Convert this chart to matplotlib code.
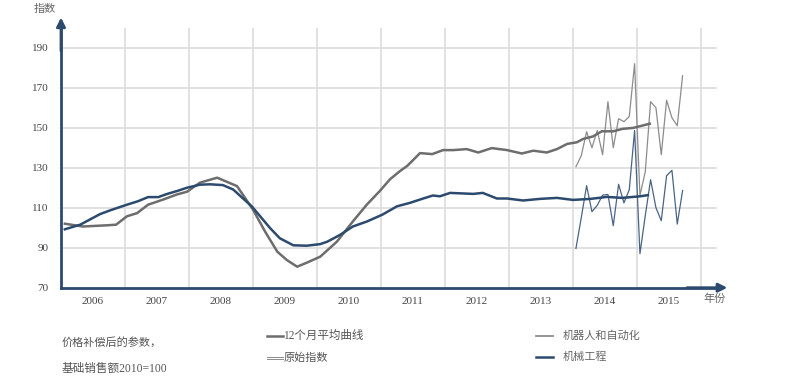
import matplotlib
matplotlib.use("Agg")
import matplotlib.pyplot as plt

# ===========================
# DATA (index, 2010 = 100)
# ===========================

# 12-month average, robots & automation (decimal year, value)
robot_avg_t = [2006.06, 2006.34, 2006.72, 2006.86, 2007.03, 2007.19, 2007.36, 2007.59,
               2007.81, 2007.97, 2008.17, 2008.44, 2008.75, 2008.84, 2009.0, 2009.19,
               2009.38, 2009.53, 2009.69, 2009.84, 2010.05, 2010.31, 2010.56, 2010.78,
               2010.98, 2011.14, 2011.3, 2011.41, 2011.61, 2011.8, 2011.97, 2012.13,
               2012.34, 2012.52, 2012.73, 2012.97, 2013.2, 2013.38, 2013.59, 2013.75,
               2013.91, 2014.06, 2014.16, 2014.31, 2014.45, 2014.63, 2014.77, 2014.94,
               2015.09, 2015.2]
robot_avg_v = [102, 100.6, 101.2, 101.5, 105.7, 107.3, 111.5, 114,
               116.6, 118, 122.5, 125, 120.8, 116.6, 109, 98,
               88, 83.8, 80.5, 82.5, 85.5, 93, 103.1, 111.6,
               118.3, 124.2, 128.4, 130.9, 137.3, 136.8, 138.8, 138.8,
               139.3, 137.6, 139.8, 138.8, 137.1, 138.5, 137.6, 139.3,
               141.9, 142.7, 144.4, 145.6, 148.2, 148.2, 149.4, 149.9,
               151.1, 152]

# 12-month average, mechanical engineering
mech_avg_t = [2006.06, 2006.3, 2006.61, 2006.77, 2007.03, 2007.2, 2007.36, 2007.52,
              2007.66, 2007.81, 2007.97, 2008.17, 2008.33, 2008.53, 2008.69, 2008.98,
              2009.27, 2009.42, 2009.63, 2009.84, 2010.05, 2010.16, 2010.36, 2010.56,
              2010.78, 2011.02, 2011.25, 2011.45, 2011.66, 2011.81, 2011.92, 2012.08,
              2012.44, 2012.59, 2012.81, 2012.97, 2013.22, 2013.48, 2013.75, 2014.0,
              2014.27, 2014.53, 2014.77, 2014.94, 2015.05, 2015.17]
mech_avg_v = [99.2, 101.5, 106.8, 108.7, 111.5, 113.2, 115.3, 115.3,
              116.9, 118.3, 120, 121.5, 121.7, 121.3, 119.1, 110.7,
              99.7, 94.7, 91.2, 91, 91.8, 93, 96.4, 100.6,
              103.1, 106.5, 110.7, 112.4, 114.6, 116.1, 115.7, 117.4,
              116.9, 117.4, 114.6, 114.6, 113.6, 114.4, 114.9, 113.9,
              114.4, 115.4, 114.9, 115.4, 115.7, 116.3]

# raw monthly index, Jan 2014 - Sep 2015
raw_t = [2014 + (m - 0.45) / 12 for m in range(1, 13)] + \
        [2015 + (m - 0.45) / 12 for m in range(1, 10)]
robot_raw = [130.5, 136, 148, 140, 148.6, 136.5, 163, 140, 154.5, 153, 155.6, 182,
             116, 128, 163, 160, 136.5, 163.7, 155, 151, 176]
mech_raw = [89.6, 105, 121, 108, 111.2, 116.3, 116.6, 101, 121.7, 112.4, 119, 148.6,
            87, 106, 124, 110, 103.5, 126, 128.7, 101.8, 118.6]

years = list(range(2006, 2016))
y_ticks = [70, 90, 110, 130, 150, 170, 190]

# ===========================
# STYLE
# ===========================
NAVY = "#2c4a6e"
GREY = "#6d6d6d"
RAW_GREY = "#8c8c8c"
RAW_NAVY = "#4a6485"
GRID = "#dcdcdc"
TXT = "#444444"
SERIF = ["Liberation Serif", "Noto Sans CJK SC"]
CJK = ["Noto Sans CJK SC", "DejaVu Sans"]

fig = plt.figure(figsize=(7.94, 3.86), dpi=100)
ax = fig.add_axes([61 / 794, 1 - 287.7 / 386, 656 / 794, 260 / 386])

ax.set_xlim(2006, 2016.25)
ax.set_ylim(70, 200)

# grid
for yv in y_ticks[1:]:
    ax.axhline(yv, color=GRID, lw=1.2, zorder=0)
for yr in range(2007, 2017):
    ax.axvline(yr, color=GRID, lw=1.2, zorder=0)

# lines
ax.plot(raw_t, robot_raw, color=RAW_GREY, lw=0.9, zorder=2)
ax.plot(raw_t, mech_raw, color=RAW_NAVY, lw=0.9, zorder=2)
ax.plot(robot_avg_t, robot_avg_v, color=GREY, lw=1.8, zorder=3)
ax.plot(mech_avg_t, mech_avg_v, color=NAVY, lw=1.8, zorder=3)

# axes
for s in ["top", "right"]:
    ax.spines[s].set_visible(False)
for s in ["left", "bottom"]:
    ax.spines[s].set_color(NAVY)
    ax.spines[s].set_linewidth(2)
ax.annotate("", xy=(0, 1.05), xytext=(0, 0.9), xycoords="axes fraction",
            arrowprops=dict(arrowstyle="-|>", color=NAVY, lw=2, mutation_scale=13),
            annotation_clip=False)
ax.annotate("", xy=(1.02, 0), xytext=(0.95, 0), xycoords="axes fraction",
            arrowprops=dict(arrowstyle="-|>", color=NAVY, lw=2, mutation_scale=13),
            annotation_clip=False)

ax.set_yticks(y_ticks)
ax.set_yticklabels([str(v) for v in y_ticks], family=SERIF, fontsize=8, color=TXT)
ax.set_xticks([y + 0.5 for y in years])
ax.set_xticklabels([str(y) for y in years], family=SERIF, fontsize=8, color=TXT)
ax.tick_params(axis="both", length=0)
ax.tick_params(axis="y", pad=9)
ax.tick_params(axis="x", pad=7)

fig.text(703 / 794, 1 - 299 / 386, "年份", family=CJK, fontsize=8, color="#666666",
         va="center", ha="left")
fig.text(34 / 794, 1 - 9 / 386, "指数", family=CJK, fontsize=8, color="#666666",
         va="center", ha="left")

# notes and legend
fig.text(62 / 794, 1 - 342 / 386, "价格补偿后的参数，", family=CJK, fontsize=8,
         color="#555555", va="center")
fig.text(62 / 794, 1 - 369 / 386, "基础销售额2010=100", family=SERIF, fontsize=8.4,
         color="#555555", va="center")

fig.add_artist(plt.Line2D([267 / 794, 283 / 794], [1 - 336 / 386] * 2, color=GREY, lw=1.8))
fig.text(283 / 794, 1 - 336 / 386, "12个月平均曲线", family=SERIF, fontsize=8.3,
         color="#555555", va="center")
fig.add_artist(plt.Line2D([267 / 794, 283 / 794], [1 - 356.5 / 386] * 2, color=RAW_GREY, lw=0.7))
fig.add_artist(plt.Line2D([267 / 794, 283 / 794], [1 - 359 / 386] * 2, color=RAW_GREY, lw=0.7))
fig.text(284 / 794, 1 - 358 / 386, "原始指数", family=CJK, fontsize=8,
         color="#555555", va="center")

fig.add_artist(plt.Line2D([536 / 794, 553 / 794], [1 - 336 / 386] * 2, color=RAW_GREY, lw=1.3))
fig.text(563 / 794, 1 - 336 / 386, "机器人和自动化", family=CJK, fontsize=8,
         color="#666666", va="center")
fig.add_artist(plt.Line2D([536 / 794, 553 / 794], [1 - 357 / 386] * 2, color=NAVY, lw=1.8))
fig.text(563 / 794, 1 - 357 / 386, "机械工程", family=CJK, fontsize=8,
         color="#666666", va="center")

fig.savefig("out.png", dpi=100, facecolor="white")
